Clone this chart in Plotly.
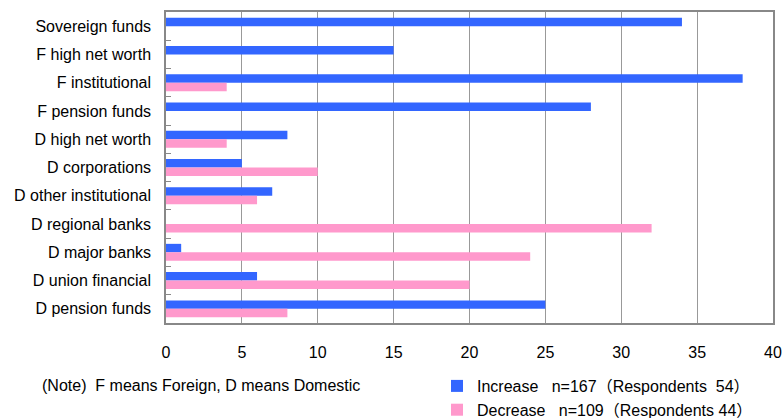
import plotly.graph_objects as go

categories = ["Sovereign funds", "F high net worth", "F institutional", "F pension funds",
              "D high net worth", "D corporations", "D other institutional",
              "D regional banks", "D major banks", "D union financial", "D pension funds"]
increase = [34, 15, 38, 28, 8, 5, 7, 0, 1, 6, 25]
decrease = [0, 0, 4, 0, 4, 10, 6, 32, 24, 20, 8]
increase_name = "Increase   n=167（Respondents  54）"
decrease_name = "Decrease   n=109（Respondents 44）"
note_text = "(Note)  F means Foreign, D means Domestic"

FONT = "Liberation Sans, Arial, Noto Sans CJK JP"

fig = go.Figure()
fig.add_trace(go.Bar(y=categories, x=increase, orientation="h", name=increase_name,
                     marker=dict(color="#3366FF", line=dict(width=0))))
fig.add_trace(go.Bar(y=categories, x=decrease, orientation="h", name=decrease_name,
                     marker=dict(color="#FF99CC", line=dict(width=0))))

fig.update_layout(
    width=782, height=418,
    margin=dict(l=166, r=9, t=12, b=95, autoexpand=False),
    paper_bgcolor="white", plot_bgcolor="white",
    barmode="group", bargap=0.4, bargroupgap=0,
    font=dict(family=FONT, size=16, color="#000000"),
    showlegend=True,
    legend=dict(xref="container", yref="container", x=437/782, y=1-369/418,
                xanchor="left", yanchor="top", itemwidth=30,
                font=dict(size=16), tracegroupgap=0, bgcolor="rgba(0,0,0,0)",
                traceorder="normal"),
    annotations=[dict(text=note_text, xref="paper", yref="paper", x=-(166-40)/607,
                      y=-(385-323)/311, xanchor="left", yanchor="middle",
                      showarrow=False, font=dict(size=16))],
)
fig.update_xaxes(range=[0, 40], dtick=5, showgrid=True, gridcolor="#999999", gridwidth=1,
                 showline=True, linecolor="#888888", linewidth=1.5, mirror=True,
                 zeroline=False, ticks="", ticklabelstandoff=14)
fig.update_yaxes(autorange="reversed", showline=True, linecolor="#888888", linewidth=1.5,
                 mirror=True, ticks="inside", tickson="boundaries", ticklen=5,
                 tickcolor="#888888", ticklabelstandoff=10, showgrid=False)

fig.write_html("out.html")
